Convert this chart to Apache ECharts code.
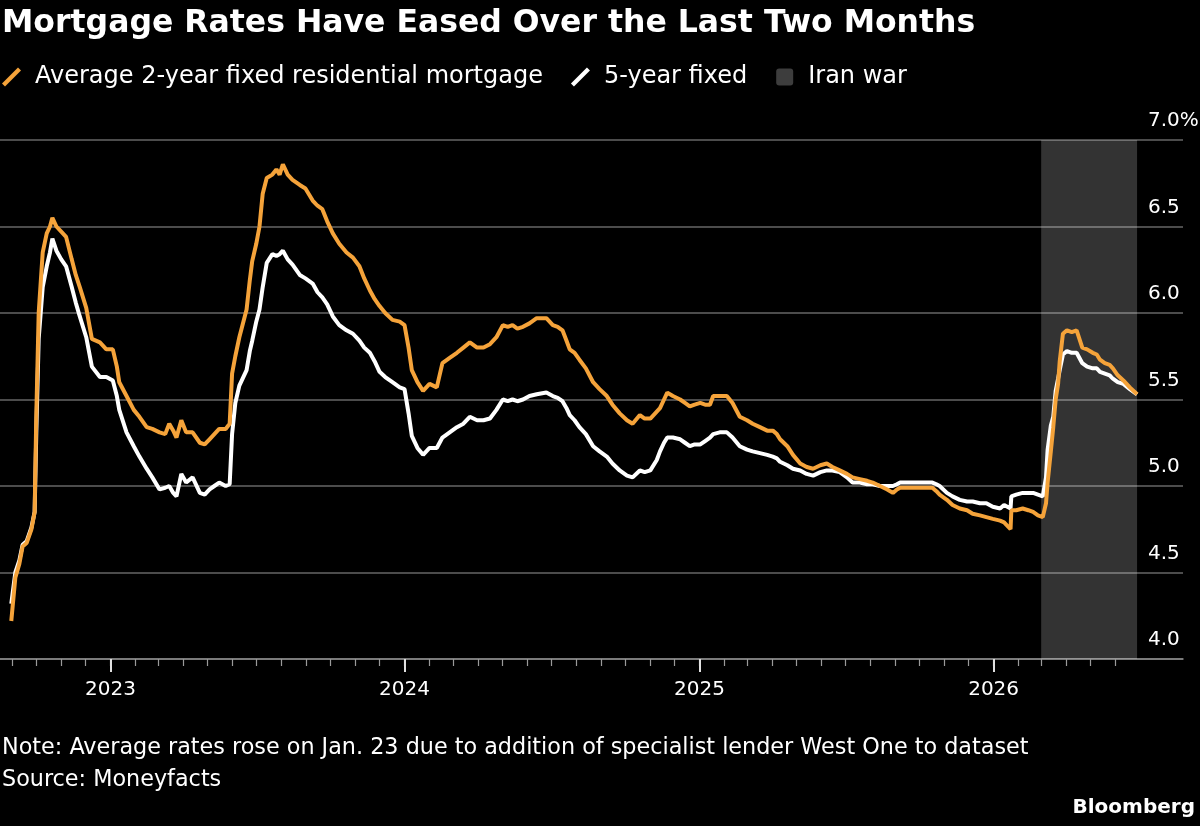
<!DOCTYPE html>
<html><head><meta charset="utf-8">
<script src="https://cdn.jsdelivr.net/npm/echarts@6/dist/echarts.min.js"></script>
<style>html,body{margin:0;background:#000}#c{width:1200px;height:826px}</style>
</head><body><div id="c"></div>
<script>
const dates = [
'2022-08-31','2022-09-05','2022-09-10','2022-09-14','2022-09-19','2022-09-25','2022-09-29','2022-10-01','2022-10-04','2022-10-09',
'2022-10-14','2022-10-18','2022-10-21','2022-10-26','2022-11-01','2022-11-07','2022-11-14','2022-11-19','2022-11-24','2022-12-02',
'2022-12-09','2022-12-19','2022-12-27','2023-01-04','2023-01-09','2023-01-12','2023-01-21','2023-01-30','2023-02-06','2023-02-15',
'2023-02-22','2023-03-03','2023-03-10','2023-03-15','2023-03-20','2023-03-24','2023-03-30','2023-04-05','2023-04-13','2023-04-22',
'2023-04-28','2023-05-04','2023-05-10','2023-05-16','2023-05-24','2023-05-29','2023-06-01','2023-06-05','2023-06-10','2023-06-19',
'2023-06-23','2023-06-26','2023-07-01','2023-07-05','2023-07-09','2023-07-14','2023-07-21','2023-07-26','2023-07-30','2023-08-03',
'2023-08-09','2023-08-15','2023-08-24','2023-08-31','2023-09-09','2023-09-15','2023-09-21','2023-09-27','2023-10-04','2023-10-12',
'2023-10-21','2023-10-29','2023-11-06','2023-11-12','2023-11-19','2023-11-25','2023-12-01','2023-12-08','2023-12-17','2023-12-26',
'2024-01-01','2024-01-06','2024-01-10','2024-01-17','2024-01-24','2024-02-01','2024-02-10','2024-02-17','2024-02-26','2024-03-06',
'2024-03-14','2024-03-22','2024-03-31','2024-04-08','2024-04-16','2024-04-24','2024-05-02','2024-05-08','2024-05-14','2024-05-20',
'2024-05-27','2024-06-04','2024-06-13','2024-06-25','2024-07-03','2024-07-09','2024-07-15','2024-07-20','2024-07-24','2024-07-30',
'2024-08-05','2024-08-13','2024-08-22','2024-08-30','2024-09-08','2024-09-15','2024-09-24','2024-10-03','2024-10-10','2024-10-19',
'2024-10-25','2024-11-01','2024-11-09','2024-11-13','2024-11-18','2024-11-22','2024-11-29','2024-12-08','2024-12-14','2024-12-20',
'2024-12-26','2025-01-02','2025-01-08','2025-01-14','2025-01-18','2025-01-26','2025-02-04','2025-02-11','2025-02-20','2025-03-01',
'2025-03-08','2025-03-17','2025-03-26','2025-04-02','2025-04-07','2025-04-11','2025-04-20','2025-04-27','2025-05-06','2025-05-14',
'2025-05-22','2025-05-31','2025-06-08','2025-06-15','2025-06-24','2025-07-03','2025-07-10','2025-07-19','2025-07-28','2025-08-04',
'2025-08-13','2025-08-22','2025-08-29','2025-09-03','2025-09-07','2025-09-15','2025-09-23','2025-10-01','2025-10-10','2025-10-17',
'2025-10-22','2025-10-26','2025-11-04','2025-11-11','2025-11-20','2025-11-29','2025-12-06','2025-12-15','2025-12-23','2025-12-31',
'2026-01-09','2026-01-14','2026-01-22','2026-01-23','2026-01-29','2026-02-06','2026-02-13','2026-02-19','2026-02-25','2026-03-03',
'2026-03-07','2026-03-09','2026-03-13','2026-03-16','2026-03-19','2026-03-22','2026-03-24','2026-03-28','2026-04-02','2026-04-08',
'2026-04-14','2026-04-21','2026-04-27','2026-05-04','2026-05-09','2026-05-13','2026-05-19','2026-05-25','2026-05-29','2026-06-04',
'2026-06-11','2026-06-19','2026-06-28'
];
const twoYearFixed = [
4.22,4.47,4.55,4.65,4.67,4.75,4.85,5.40,6.00,6.35,
6.46,6.50,6.55,6.50,6.47,6.44,6.31,6.22,6.15,6.03,
5.85,5.83,5.79,5.79,5.69,5.60,5.52,5.44,5.40,5.34,
5.33,5.31,5.30,5.36,5.32,5.28,5.38,5.31,5.31,5.25,
5.24,5.27,5.30,5.33,5.33,5.36,5.65,5.75,5.86,6.02,
6.19,6.30,6.40,6.50,6.69,6.78,6.80,6.83,6.80,6.86,
6.80,6.77,6.74,6.72,6.65,6.62,6.60,6.53,6.46,6.40,
6.35,6.32,6.27,6.20,6.13,6.08,6.04,6.00,5.96,5.95,
5.93,5.80,5.67,5.60,5.55,5.59,5.57,5.71,5.74,5.77,
5.80,5.83,5.80,5.80,5.82,5.86,5.93,5.92,5.93,5.91,
5.92,5.94,5.97,5.97,5.93,5.92,5.90,5.84,5.79,5.77,
5.73,5.68,5.60,5.56,5.52,5.47,5.42,5.38,5.36,5.41,
5.39,5.39,5.43,5.45,5.50,5.54,5.52,5.50,5.48,5.46,
5.47,5.48,5.47,5.47,5.52,5.52,5.52,5.48,5.40,5.38,
5.36,5.34,5.32,5.32,5.30,5.27,5.23,5.18,5.13,5.11,
5.10,5.12,5.13,5.11,5.09,5.07,5.05,5.04,5.03,5.02,
5.00,4.98,4.96,4.98,4.99,4.99,4.99,4.99,4.99,4.99,
4.97,4.95,4.92,4.89,4.87,4.86,4.84,4.83,4.82,4.81,
4.80,4.79,4.75,4.86,4.86,4.87,4.86,4.85,4.83,4.82,
4.90,5.02,5.20,5.34,5.50,5.59,5.72,5.88,5.90,5.89,
5.90,5.80,5.79,5.77,5.76,5.73,5.71,5.70,5.68,5.64,
5.61,5.57,5.53
];
const fiveYearFixed = [
4.32,4.50,4.57,4.66,4.68,4.76,4.85,5.30,5.85,6.15,
6.27,6.35,6.43,6.36,6.31,6.27,6.15,6.06,5.98,5.86,
5.69,5.63,5.63,5.61,5.52,5.44,5.31,5.23,5.17,5.10,
5.05,4.98,4.99,5.00,4.96,4.94,5.07,5.02,5.05,4.96,
4.95,4.98,5.00,5.02,5.00,5.01,5.30,5.48,5.58,5.67,
5.78,5.84,5.95,6.02,6.15,6.29,6.34,6.33,6.34,6.36,
6.31,6.28,6.22,6.20,6.17,6.12,6.09,6.05,5.98,5.93,
5.90,5.88,5.84,5.80,5.77,5.72,5.66,5.63,5.60,5.57,
5.56,5.42,5.29,5.22,5.18,5.22,5.22,5.28,5.31,5.34,
5.36,5.40,5.38,5.38,5.39,5.44,5.50,5.49,5.50,5.49,
5.50,5.52,5.53,5.54,5.52,5.51,5.49,5.45,5.41,5.38,
5.34,5.30,5.23,5.20,5.17,5.13,5.09,5.06,5.05,5.09,
5.08,5.09,5.15,5.20,5.25,5.28,5.28,5.27,5.25,5.23,
5.24,5.24,5.26,5.28,5.30,5.31,5.31,5.28,5.23,5.21,
5.20,5.19,5.18,5.17,5.16,5.14,5.12,5.10,5.09,5.07,
5.06,5.08,5.09,5.09,5.08,5.05,5.02,5.02,5.01,5.01,
5.00,5.00,5.00,5.01,5.02,5.02,5.02,5.02,5.02,5.02,
5.01,5.00,4.96,4.94,4.92,4.91,4.91,4.90,4.90,4.88,
4.87,4.89,4.87,4.94,4.95,4.96,4.96,4.96,4.95,4.94,
5.05,5.21,5.35,5.40,5.55,5.62,5.67,5.76,5.78,5.77,
5.77,5.71,5.69,5.68,5.68,5.66,5.65,5.64,5.62,5.60,
5.59,5.56,5.53
];
const seriesNames = ['Average 2-year fixed residential mortgage', '5-year fixed', 'Iran war'];
const iranWarPeriod = ['2026-03-01', '2026-06-28'];
const xAxisRange = ['2022-08-17', '2026-08-24'];
const yearTickDates = ['2023-01-01', '2024-01-01', '2025-01-01', '2026-01-01'];
const yearLabels = ['2023', '2024', '2025', '2026'];
const monthTickFirst = [2022, 8];   // Sep 2022 (month index 0-based)
const monthTickLast = [2026, 5];    // Jun 2026
const yMin = 4, yMax = 7, yStep = 0.5;

function ts(s) { const p = s.split('-').map(Number); return new Date(p[0], p[1] - 1, p[2]).getTime(); }
const monthTicks = [];
for (let y = monthTickFirst[0], m = monthTickFirst[1]; y < monthTickLast[0] || (y === monthTickLast[0] && m <= monthTickLast[1]); ) {
  monthTicks.push(new Date(y, m, 1).getTime());
  m++; if (m > 11) { m = 0; y++; }
}
const yearTicks = yearTickDates.map(ts);

const FONT = 'DejaVu Sans';
const SLASH = 'path://M0,16 L16,0 L19,3 L3,19 Z';
const SQUARE = 'path://M0,0 M19,19 M4,1 H15 Q18,1 18,4 V15 Q18,18 15,18 H4 Q1,18 1,15 V4 Q1,1 4,1 Z';
const gridBox = { left: 0, right: 17, top: 140, bottom: 167, containLabel: false, outerBoundsMode: 'none' };
const chart = echarts.init(document.getElementById('c'), null, { renderer: 'canvas' });
chart.setOption({
  backgroundColor: '#000',
  animation: false,
  textStyle: { fontFamily: FONT },
  title: [
    { text: 'Mortgage Rates Have Eased Over the Last Two Months', left: 2, top: 8, padding: 0,
      textStyle: { color: '#fff', fontSize: 31.5, fontWeight: 'bold', fontFamily: FONT } },
    { text: 'Note: Average rates rose on Jan. 23 due to addition of specialist lender West One to dataset', left: 2, top: 737, padding: 0,
      textStyle: { color: '#fff', fontSize: 22.3, fontWeight: 'normal', fontFamily: FONT } },
    { text: 'Source: Moneyfacts', left: 2, top: 769, padding: 0,
      textStyle: { color: '#fff', fontSize: 22.3, fontWeight: 'normal', fontFamily: FONT } },
    { text: 'Bloomberg', right: 5, top: 798, padding: 0,
      textStyle: { color: '#fff', fontSize: 20, fontWeight: 'bold', fontFamily: FONT } }
  ],
  legend: {
    left: 2, top: 65, padding: 0, itemWidth: 19, itemHeight: 19, itemGap: 28,
    textStyle: { color: '#fff', fontSize: 24, fontFamily: FONT, padding: [0, 0, 0, 9] },
    data: [
      { name: seriesNames[0], icon: SLASH },
      { name: seriesNames[1], icon: SLASH },
      { name: seriesNames[2], icon: SQUARE, itemStyle: { color: '#3d3d3d' } }
    ],
    selectedMode: false
  },
  grid: [Object.assign({}, gridBox), Object.assign({}, gridBox)],
  xAxis: [
    { type: 'value', gridIndex: 0, min: ts(xAxisRange[0]), max: ts(xAxisRange[1]),
      axisLine: { show: true, lineStyle: { color: '#8a8a8a', width: 1.5 } },
      axisTick: { show: true, customValues: monthTicks, length: 7, lineStyle: { color: '#9a9a9a', width: 1.2 } },
      axisLabel: { show: false }, splitLine: { show: false } },
    { type: 'value', gridIndex: 1, min: ts(xAxisRange[0]), max: ts(xAxisRange[1]), position: 'bottom',
      axisLine: { show: false },
      axisTick: { show: true, customValues: yearTicks, length: 13, lineStyle: { color: '#e0e0e0', width: 2 } },
      axisLabel: { show: true, customValues: yearTicks, margin: 21, color: '#fff', fontSize: 20, fontFamily: FONT,
        formatter: v => yearLabels[yearTicks.indexOf(v)] },
      splitLine: { show: false } }
  ],
  yAxis: [
    { type: 'value', gridIndex: 0, position: 'right', min: yMin, max: yMax, interval: yStep,
      axisLine: { show: false }, axisTick: { show: false },
      splitLine: { show: true, lineStyle: { color: '#666', width: 1.5 } },
      axisLabel: { inside: true, margin: 35, align: 'left', verticalAlign: 'bottom', padding: [0, 0, 9, 0],
        color: '#fff', fontSize: 20, fontFamily: FONT,
        formatter: v => v === yMax ? v.toFixed(1) + '%' : v.toFixed(1) } },
    { type: 'value', gridIndex: 1, min: yMin, max: yMax, show: false }
  ],
  series: [
    { name: seriesNames[2], type: 'line', xAxisIndex: 0, yAxisIndex: 0, data: [], z: 1,
      itemStyle: { color: '#3d3d3d' },
      markArea: { silent: true, itemStyle: { color: 'rgba(255,255,255,0.2)' },
        data: [[{ xAxis: ts(iranWarPeriod[0]) }, { xAxis: ts(iranWarPeriod[1]) }]] } },
    { name: seriesNames[1], type: 'line', xAxisIndex: 0, yAxisIndex: 0, z: 3,
      data: dates.map((d, i) => [ts(d), fiveYearFixed[i]]),
      showSymbol: false, symbol: 'none', itemStyle: { color: '#ffffff' },
      lineStyle: { color: '#ffffff', width: 4 } },
    { name: seriesNames[0], type: 'line', xAxisIndex: 0, yAxisIndex: 0, z: 4,
      data: dates.map((d, i) => [ts(d), twoYearFixed[i]]),
      showSymbol: false, symbol: 'none', itemStyle: { color: '#F5A33A' },
      lineStyle: { color: '#F5A33A', width: 4 } }
  ]
});
</script>
</body></html>
